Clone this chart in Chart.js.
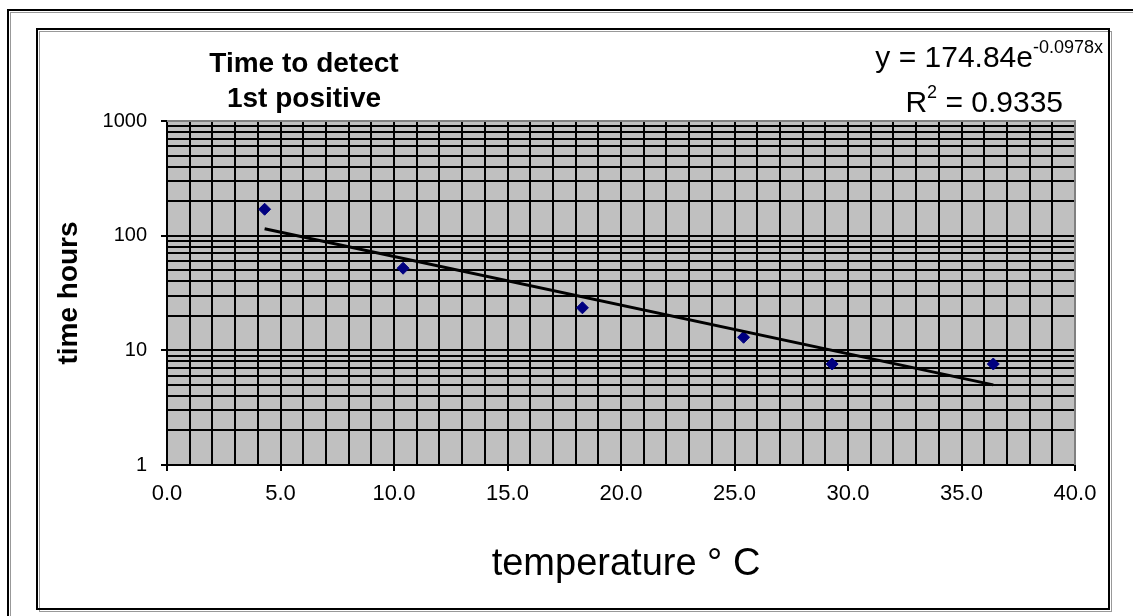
<!DOCTYPE html>
<html>
<head>
<meta charset="utf-8">
<script src="https://cdn.jsdelivr.net/npm/chart.js@4.4.0/dist/chart.umd.min.js"></script>
<style>
  html, body { margin: 0; padding: 0; background: #fff; }
  canvas { display: block; }
</style>
</head>
<body>
<canvas id="chart" width="1133" height="616"></canvas>
<script>
// Data
const tempC = [4.3, 10.4, 18.3, 25.4, 29.3, 36.4];
const hours = [170, 52, 23.5, 13, 7.6, 7.6];

// exponential trendline (straight on a log axis) - end points
const trendX = [4.3, 36.4];
const trendY = [115, 5.0];

// axes
const yDecades = [1, 10, 100];
const yMinor = [1, 2, 3, 4, 5, 6, 7, 8, 9];
const yMax = 1000;
const xMin = 0, xMax = 40, xMajorStep = 5;

const titleLines = ["Time to detect", "1st positive"];
const eqMain = "y = 174.84e";
const eqSup = "-0.0978x";
const r2Text = "0.9335";
const yTitle = "time hours";
const xTitle = "temperature \u00b0 C";

const FONT = "Arial, 'Liberation Sans', sans-serif";

const isDecade = (v) => Math.abs(Math.log10(v) - Math.round(Math.log10(v))) < 1e-9;

// Frames, plot background, and text drawn on canvas
const decorPlugin = {
  id: "decor",
  beforeDraw(chart) {
    const c = chart.ctx;
    const a = chart.chartArea;
    c.save();
    c.fillStyle = "#fff";
    c.fillRect(0, 0, chart.width, chart.height);
    // outer border
    c.strokeStyle = "#999";
    c.lineWidth = 1;
    c.strokeRect(10.5, 12.5, 1200, 700);
    c.strokeStyle = "#000";
    c.lineWidth = 2;
    c.strokeRect(8, 10, 1200, 700);
    // inner frame
    c.strokeStyle = "#999";
    c.lineWidth = 1;
    c.strokeRect(39.5, 31.5, 1072, 580);
    c.strokeStyle = "#000";
    c.lineWidth = 2;
    c.strokeRect(37, 29, 1072, 580);
    // plot area
    c.fillStyle = "#c0c0c0";
    c.fillRect(a.left, a.top, a.right - a.left, a.bottom - a.top);
    c.restore();
  },
  afterDraw(chart) {
    const c = chart.ctx;
    const a = chart.chartArea;
    c.save();
    c.fillStyle = "#000";
    // chart title
    c.font = "bold 28px " + FONT;
    c.textAlign = "center";
    c.textBaseline = "alphabetic";
    c.fillText(titleLines[0], 304, 72);
    c.fillText(titleLines[1], 304, 107);

    // trendline equation
    c.textAlign = "left";
    c.font = "18px " + FONT;
    const supW = c.measureText(eqSup).width;
    c.font = "30px " + FONT;
    const mainW = c.measureText(eqMain).width;
    const eqRight = 1103;
    c.fillText(eqMain, eqRight - supW - mainW, 67);
    c.font = "18px " + FONT;
    c.fillText(eqSup, eqRight - supW, 53);

    // R squared
    c.font = "30px " + FONT;
    const rW = c.measureText("R").width;
    const restTxt = " = " + r2Text;
    const restW = c.measureText(restTxt).width;
    c.font = "18px " + FONT;
    const twoW = c.measureText("2").width;
    const r2Right = 1063;
    let x0 = r2Right - rW - twoW - restW;
    c.font = "30px " + FONT;
    c.fillText("R", x0, 112);
    c.font = "18px " + FONT;
    c.fillText("2", x0 + rW, 98);
    c.font = "30px " + FONT;
    c.fillText(restTxt, x0 + rW + twoW, 112);

    // axis titles
    c.textAlign = "center";
    c.textBaseline = "middle";
    c.font = "bold 28px " + FONT;
    c.save();
    c.translate(69, (a.top + a.bottom) / 2);
    c.rotate(-Math.PI / 2);
    c.fillText(yTitle, 0, 0);
    c.restore();
    c.font = "38px " + FONT;
    c.textBaseline = "alphabetic";
    c.fillText(xTitle, 626, 575);

    // plot border (top / right) in grey
    c.strokeStyle = "#808080";
    c.lineWidth = 2;
    c.beginPath();
    c.moveTo(a.left, a.top);
    c.lineTo(a.right, a.top);
    c.lineTo(a.right, a.bottom);
    c.stroke();
    c.restore();
  }
};

new Chart(document.getElementById("chart"), {
  type: "scatter",
  data: {
    datasets: [
      {
        label: "trend",
        type: "line",
        data: trendX.map((x, i) => ({ x, y: trendY[i] })),
        borderColor: "#000",
        borderWidth: 3,
        pointRadius: 0,
        fill: false,
        tension: 0,
        order: 0,
      },
      {
        label: "time hours",
        data: tempC.map((x, i) => ({ x, y: hours[i] })),
        pointStyle: "rectRot",
        pointRadius: 6,
        pointBackgroundColor: "#000080",
        pointBorderColor: "#000080",
        pointBorderWidth: 1,
        order: 1,
      },
    ],
  },
  options: {
    responsive: false,
    animation: false,
    devicePixelRatio: 1,
    layout: { padding: { left: 0, top: 121, right: 58, bottom: 101 } },
    plugins: {
      legend: { display: false },
      tooltip: { enabled: false },
      title: { display: false },
    },
    scales: {
      x: {
        type: "linear",
        min: xMin,
        max: xMax,
        afterFit(scale) { scale.height = 50; },
        border: { color: "#000", width: 2 },
        grid: {
          color: (ctx) => (ctx.tick && ctx.tick.value === xMax ? "#808080" : "#000"),
          lineWidth: 2,
          drawTicks: true,
          tickLength: 6,
          tickColor: (ctx) => (ctx.tick && ctx.tick.value % xMajorStep === 0 ? "#000" : "rgba(0,0,0,0)"),
          tickWidth: 2,
        },
        ticks: {
          stepSize: 1,
          autoSkip: false,
          maxRotation: 0,
          padding: 10,
          color: "#000",
          font: { family: FONT, size: 22 },
          callback: (v) => (v % xMajorStep === 0 ? Number(v).toFixed(1) : ""),
        },
      },
      y: {
        type: "logarithmic",
        min: 1,
        max: yMax,
        afterFit(scale) { scale.width = 167; },
        afterBuildTicks(scale) {
          const vals = [];
          yDecades.forEach((d) => yMinor.forEach((m) => vals.push(d * m)));
          vals.push(yMax);
          scale.ticks = vals.map((v) => ({ value: v, major: isDecade(v) }));
        },
        border: { color: "#000", width: 2 },
        grid: {
          color: (ctx) => (ctx.tick && ctx.tick.value === yMax ? "#808080" : "#000"),
          lineWidth: 2,
          drawTicks: true,
          tickLength: 6,
          tickColor: (ctx) => (ctx.tick && isDecade(ctx.tick.value) ? "#000" : "rgba(0,0,0,0)"),
          tickWidth: 2,
        },
        ticks: {
          autoSkip: false,
          padding: 14,
          color: "#000",
          font: { family: FONT, size: 20 },
          callback: (v) => (isDecade(v) ? String(v) : ""),
        },
      },
    },
  },
  plugins: [decorPlugin],
});
</script>
</body>
</html>
